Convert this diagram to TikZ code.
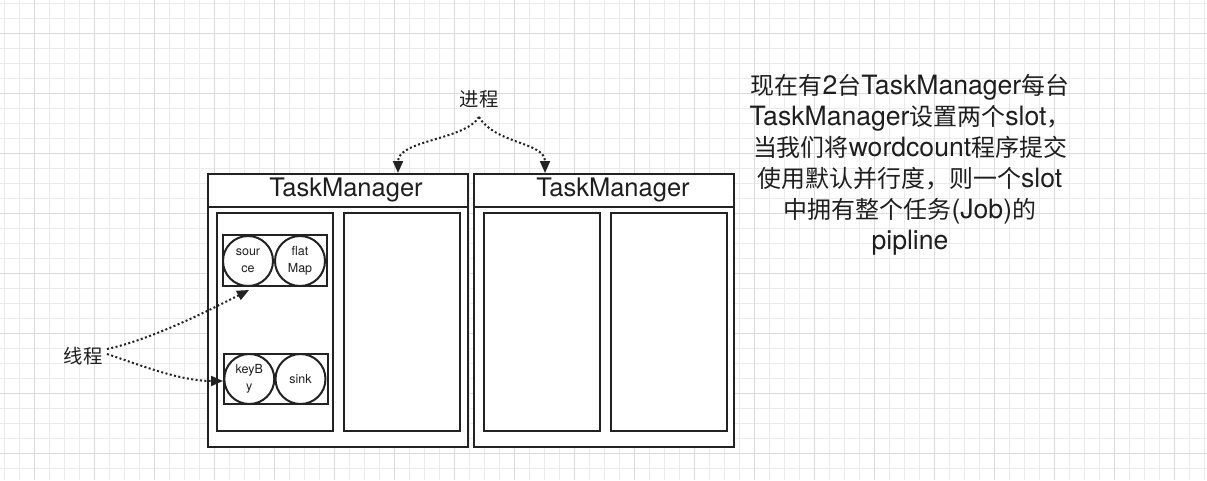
\documentclass[tikz,border=0pt]{standalone}
\usepackage{fontspec}
\setmainfont{TeX Gyre Heros}
\newfontfamily\cjk[Scale=0.9]{Noto Sans CJK SC}
\usetikzlibrary{arrows.meta}
\definecolor{ink}{HTML}{222222}
\definecolor{txt}{HTML}{1E1E1E}
\definecolor{gminor}{HTML}{EBEBEB}
\definecolor{gmajor}{HTML}{DADADA}
\tikzset{
  box/.style={draw=ink, line width=2pt, rectangle, inner sep=0pt, fill=white},
  slotbox/.style={draw=ink, line width=2pt, rectangle, inner sep=0pt, fill=white,
    minimum width=116pt, minimum height=218.5pt},
  pairbox/.style={draw=ink, line width=2pt, rectangle, inner sep=0pt, fill=white},
  op/.style={draw=ink, line width=2pt, circle, inner sep=0pt, minimum size=50pt,
    fill=white, align=center, text=txt, font=\fontsize{12.5}{17}\selectfont},
  hdr/.style={text=txt, font=\fontsize{25.5}{30}\selectfont, inner sep=0pt},
  lbl/.style={text=txt, font=\fontsize{21.5}{26}\selectfont\cjk, inner sep=0pt},
  dotarrow/.style={draw=ink, line width=2pt, dash pattern=on 2pt off 2.4pt,
    -{Triangle[length=12pt,width=10pt]}},
}
\begin{document}
\begin{tikzpicture}[x=1pt,y=-1pt]
\useasboundingbox (0,0) rectangle (1207,480);
\fill[white] (0,0) rectangle (1207,480);
% grid
\foreach \i in {0,...,80} \draw[gminor, line width=1pt] ({4.3+15*\i},0) -- ({4.3+15*\i},480);
\foreach \j in {0,...,31} \draw[gminor, line width=1pt] (0,{3.3+15*\j}) -- (1207,{3.3+15*\j});
\foreach \i in {0,...,19} \draw[gmajor, line width=1pt] ({34.3+60*\i},0) -- ({34.3+60*\i},480);
\foreach \j in {0,...,7} \draw[gmajor, line width=1pt] (0,{33.3+60*\j}) -- (1207,{33.3+60*\j});

% TaskManagers
\node[box, minimum width=260pt, minimum height=273pt] (tm1) at (338,310.5) {};
\node[box, minimum width=260pt, minimum height=273pt] (tm2) at (604,310.5) {};
\draw[ink, line width=2pt] (tm1.west |- 0,207) -- (tm1.east |- 0,207);
\draw[ink, line width=2pt] (tm2.west |- 0,207) -- (tm2.east |- 0,207);
\node[hdr] (h1) at (346,190) {TaskManager};
\node[hdr] (h2) at (613,190) {TaskManager};

% slots
\node[slotbox] (s1) at (275,321.75) {};
\node[slotbox] (s2) at (402,321.75) {};
\node[slotbox] (s3) at (541.5,321.75) {};
\node[slotbox] (s4) at (669,321.75) {};

% operator chains
\node[pairbox, minimum width=104.6pt, minimum height=51pt] (p1) at (275,260.2) {};
\node[op] (src) at (248,261) {sour\\ce};
\node[op] (fm) at (300,261) {flat\\Map};
\node[pairbox, minimum width=104.6pt, minimum height=50.6pt] (p2) at (276,379) {};
\node[op] (kb) at (249.3,379) {keyB\\y};
\node[op] (sk) at (300.5,379) {sink};

% labels
\node[lbl] (proc) at (479,99) {进程};
\node[lbl] (thr) at (83,356) {线程};
\coordinate (pa) at (479,117);
\coordinate (ta) at (107,349);
\coordinate (tb) at (107,354);
\coordinate (e1) at (398,173);
\coordinate (e2) at (545,173);
\coordinate (e3) at (249,290);
\coordinate (e4) at (223,381);

\draw[dotarrow] (pa) .. controls (465,140) and (398,140) .. (e1);
\draw[dotarrow] (pa) .. controls (495,144) and (545,142) .. (e2);
\draw[dotarrow] (ta) .. controls (150,340) and (210,310) .. (e3);
\draw[dotarrow] (tb) .. controls (140,365) and (180,381) .. (e4);

% description
\node[text=txt, align=center, inner sep=0pt, font=\fontsize{26.6}{31}\selectfont] (desc) at (910,165)
 {{\cjk 现在有}2{\cjk 台}TaskManager{\cjk 每台}\\
  TaskManager{\cjk 设置两个}slot{\cjk ，}\\
  {\cjk 当我们将}wordcount{\cjk 程序提交}\\
  {\cjk 使用默认并行度，则一个}slot\\
  {\cjk 中拥有整个任务}(Job){\cjk 的}\\
  pipline};
\end{tikzpicture}
\end{document}
